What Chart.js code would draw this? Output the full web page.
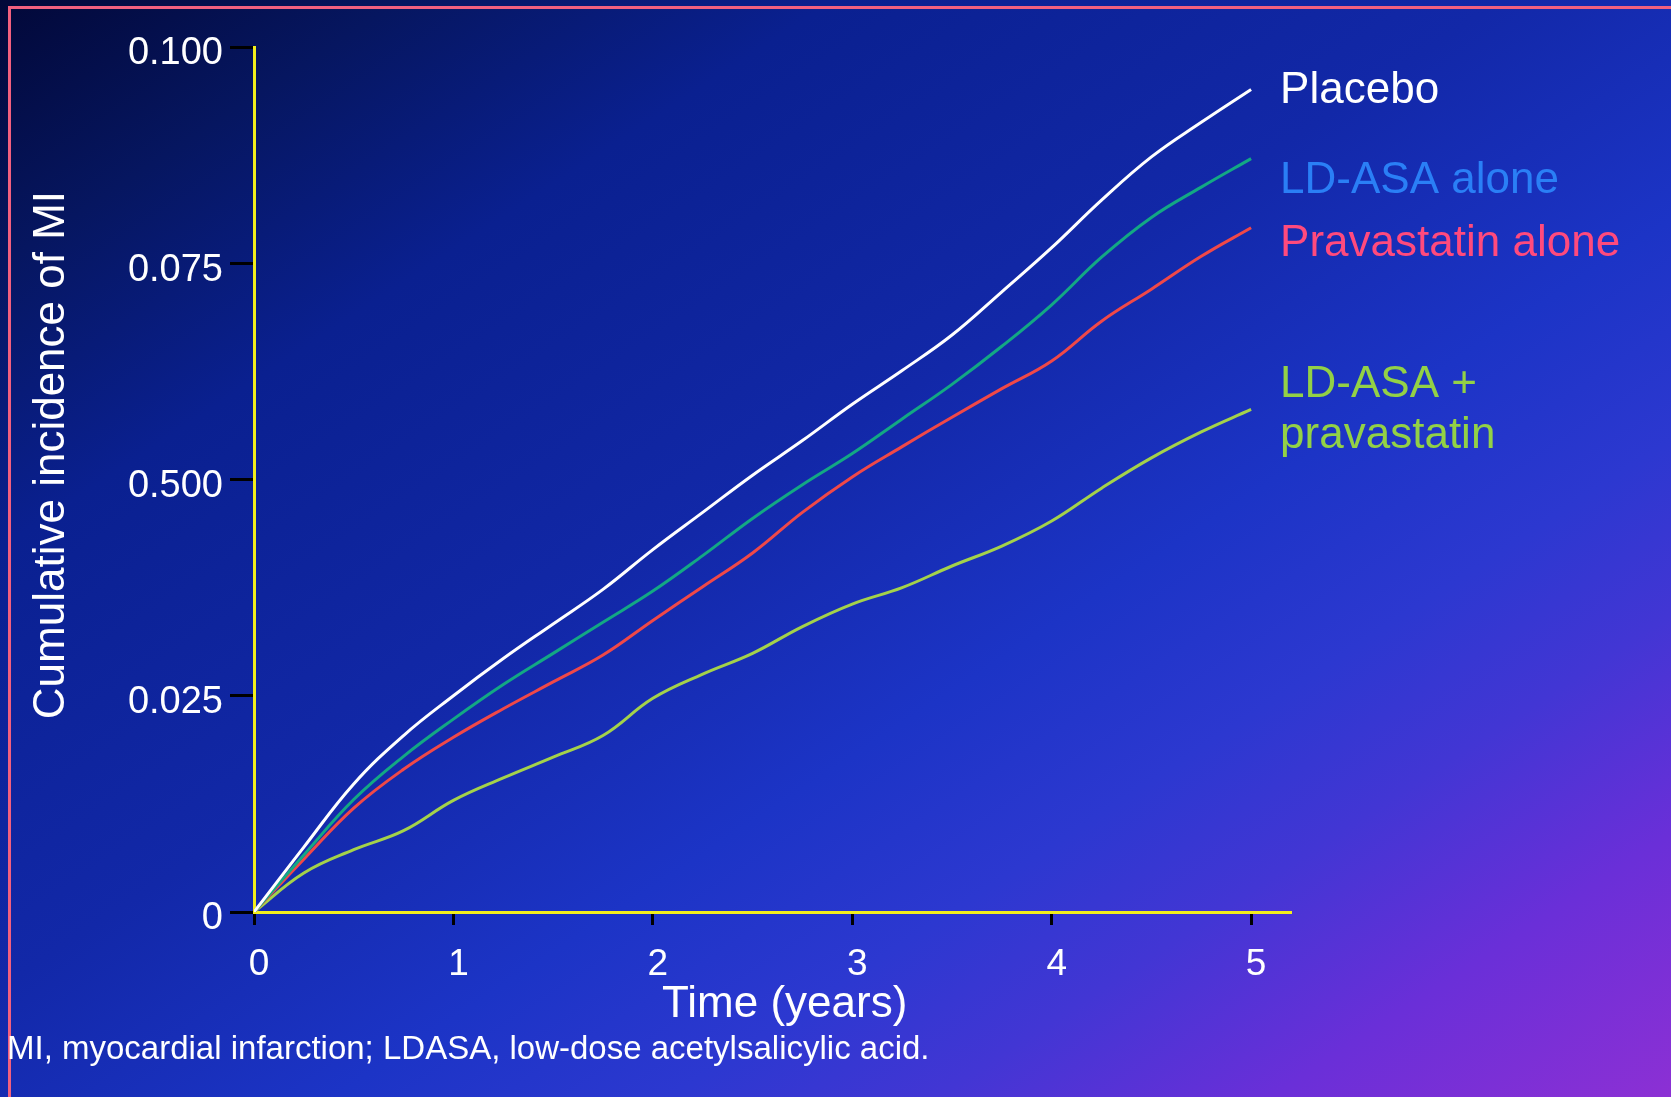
<!DOCTYPE html>
<html>
<head>
<meta charset="utf-8">
<title>Cumulative incidence of MI</title>
<script src="https://cdn.jsdelivr.net/npm/chart.js@4.4.1/dist/chart.umd.min.js"></script>
<style>
  html, body { margin: 0; padding: 0; }
  body {
    width: 1671px; height: 1097px; overflow: hidden; position: relative;
    background: linear-gradient(to bottom right,
      #020838 0%, #061660 12%, #0a2090 25%, #1228a8 45%, #1c34c6 60%,
      #2c38d0 70%, #4236d4 78%, #6a2fd8 88%, #8c30d4 100%);
    font-family: "Liberation Sans", Arial, sans-serif;
  }
  #frame {
    position: absolute; left: 8px; top: 6px; right: -20px; bottom: -20px;
    border-left: 3px solid #f2607f; border-top: 3px solid #f2607f;
  }
  #wrap { position: absolute; left: 0; top: 0; width: 1671px; height: 1097px; }
  #note {
    position: absolute; left: 7px; top: 1031px; color: #fff;
    font-size: 33px; line-height: 33px; white-space: nowrap;
  }
</style>
</head>
<body>
<div id="frame"></div>
<div id="wrap"><canvas id="miChart"></canvas></div>
<div id="note">MI, myocardial infarction; LDASA, low-dose acetylsalicylic acid.</div>

<script>
// --- DADOS ---
const years = [0, 0.25, 0.5, 0.75, 1, 1.25, 1.5, 1.75, 2, 2.25, 2.5, 2.75, 3, 3.25, 3.5, 3.75, 4, 4.25, 4.5, 4.75, 5];

const placebo    = [0, 0.0075, 0.0148, 0.0204, 0.0250, 0.0293, 0.0333, 0.0373, 0.0419, 0.0462, 0.0505, 0.0545, 0.0587, 0.0626, 0.0667, 0.0717, 0.0768, 0.0823, 0.0873, 0.0913, 0.0951];
const ldAsa      = [0, 0.0066, 0.0130, 0.0180, 0.0223, 0.0263, 0.0299, 0.0335, 0.0371, 0.0412, 0.0455, 0.0494, 0.0530, 0.0570, 0.0610, 0.0654, 0.0702, 0.0757, 0.0803, 0.0838, 0.0871];
const pravaAlone = [0, 0.0061, 0.0120, 0.0165, 0.0202, 0.0235, 0.0266, 0.0297, 0.0337, 0.0376, 0.0415, 0.0462, 0.0503, 0.0538, 0.0572, 0.0605, 0.0637, 0.0683, 0.0720, 0.0758, 0.0791];
const combo      = [0, 0.0045, 0.0072, 0.0094, 0.0129, 0.0155, 0.0179, 0.0204, 0.0247, 0.0275, 0.0299, 0.0330, 0.0356, 0.0375, 0.0400, 0.0423, 0.0452, 0.0490, 0.0525, 0.0555, 0.0581];

const xTicks = [0, 1, 2, 3, 4, 5];
const yTicks = [0, 0.025, 0.05, 0.075, 0.1];
const yTickLabels = ['0', '0.025', '0.500', '0.075', '0.100'];

const seriesNames = [['Placebo'], ['LD-ASA alone'], ['Pravastatin alone'], ['LD-ASA +', 'pravastatin']];

// --- ESTILO ---
const FONT = '"Liberation Sans", Arial, sans-serif';
const lineColors  = ['#ffffff', '#13a884', '#f04848', '#a4d24a'];
const labelColors = ['#ffffff', '#2a7ff6', '#ff4a7d', '#93d146'];
const labelDy = [[14], [34], [28], [-12, 39]];

function pts(arr) {
    return arr.map((v, i) => ({ x: years[i], y: v }));
}

// rótulos no fim de cada curva
const endLabels = {
    id: 'endLabels',
    afterDatasetsDraw(chart) {
        const ctx = chart.ctx;
        ctx.save();
        ctx.font = '44px ' + FONT;
        ctx.textAlign = 'left';
        ctx.textBaseline = 'alphabetic';
        chart.data.datasets.forEach((ds, i) => {
            const meta = chart.getDatasetMeta(i);
            const last = meta.data[meta.data.length - 1];
            ctx.fillStyle = labelColors[i];
            seriesNames[i].forEach((line, j) => {
                ctx.fillText(line, last.x + 29, last.y + labelDy[i][j]);
            });
        });
        ctx.restore();
    }
};

const names = ['Placebo', 'LD-ASA alone', 'Pravastatin alone', 'LD-ASA + pravastatin'];
const series = [placebo, ldAsa, pravaAlone, combo];

new Chart(document.getElementById('miChart'), {
    type: 'line',
    data: {
        datasets: series.map((s, i) => ({
            label: names[i],
            data: pts(s),
            borderColor: lineColors[i],
            borderWidth: 3,
            pointRadius: 0,
            fill: false,
            tension: 0.4
        }))
    },
    options: {
        responsive: true,
        maintainAspectRatio: false,
        animation: false,
        layout: { padding: { top: 47, right: 380, left: 0, bottom: 0 } },
        plugins: {
            legend: { display: false },
            tooltip: { enabled: false }
        },
        scales: {
            x: {
                type: 'linear',
                min: 0,
                max: 5.2,
                afterBuildTicks: (scale) => { scale.ticks = xTicks.map(v => ({ value: v })); },
                afterFit: (scale) => { scale.height = 185; },
                border: { color: '#f2ee1c', width: 3 },
                grid: { drawOnChartArea: false, tickColor: '#000', tickWidth: 3, tickLength: 13 },
                ticks: { color: '#fff', font: { family: FONT, size: 37 }, padding: 18, labelOffset: 5, maxRotation: 0 },
                title: {
                    display: true,
                    text: '  Time (years)',
                    color: '#fff',
                    font: { family: FONT, size: 44 },
                    padding: { top: 0, bottom: 66 }
                }
            },
            y: {
                min: 0,
                max: 0.1,
                afterBuildTicks: (scale) => { scale.ticks = yTicks.map(v => ({ value: v })); },
                afterFit: (scale) => { scale.width = 254; },
                border: { color: '#f2ee1c', width: 3 },
                grid: { drawOnChartArea: false, tickColor: '#000', tickWidth: 3, tickLength: 24 },
                ticks: {
                    color: '#fff',
                    font: { family: FONT, size: 38 },
                    padding: 7,
                    labelOffset: 7,
                    callback: (v, idx) => yTickLabels[idx]
                },
                title: {
                    display: true,
                    text: '    Cumulative incidence of MI',
                    color: '#fff',
                    font: { family: FONT, size: 44 },
                    padding: { top: 25, bottom: 0 }
                }
            }
        }
    },
    plugins: [endLabels]
});
</script>
</body>
</html>
